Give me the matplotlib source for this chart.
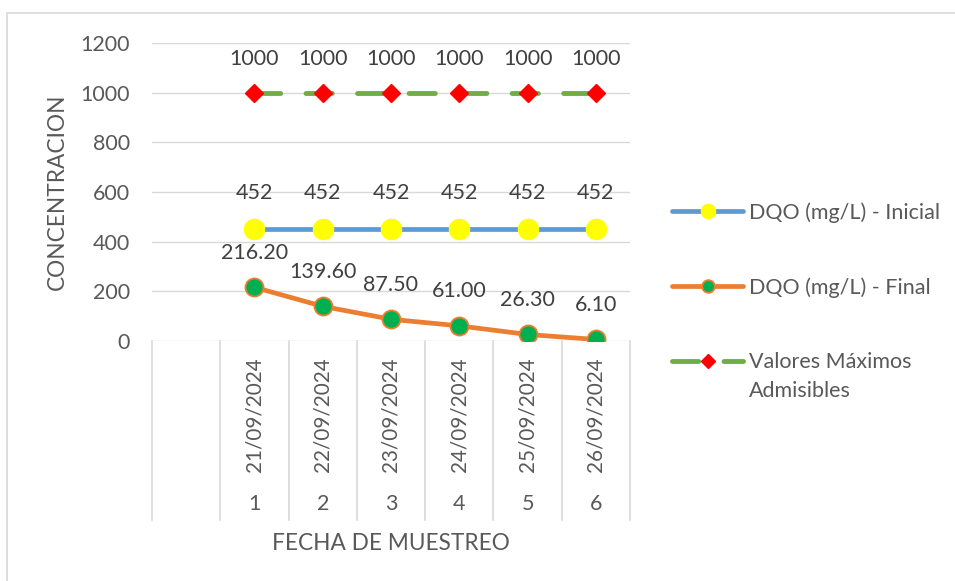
import numpy as np
import matplotlib
matplotlib.use("Agg")
import matplotlib.pyplot as plt
from matplotlib.patches import Rectangle
from matplotlib.transforms import blended_transform_factory

# Sample data
muestras = ["1", "2", "3", "4", "5", "6"]
fechas = ["21/09/2024", "22/09/2024", "23/09/2024", "24/09/2024", "25/09/2024", "26/09/2024"]
dqo_inicial = [452, 452, 452, 452, 452, 452]
dqo_final = [216.20, 139.60, 87.50, 61.00, 26.30, 6.10]
vma = [1000, 1000, 1000, 1000, 1000, 1000]
y_ticks = [0, 200, 400, 600, 800, 1000, 1200]

plt.rcParams["font.family"] = ["Lato", "DejaVu Sans"]
FS = 15.5
TXT = "#595959"
LBL = "#404040"
GRID = "#d9d9d9"

W, H = 955, 581
fig = plt.figure(figsize=(W / 100, H / 100), dpi=100)

def fx(px):
    return px / W

def fy(py):
    return 1 - py / H

# chart border (only left/top edges fall inside the image)
fig.patches.append(Rectangle((fx(7), -0.1), 1.2, fy(13) + 0.1, transform=fig.transFigure,
                             fill=False, edgecolor=GRID, linewidth=1.2))

ax = fig.add_axes([fx(152), fy(341), fx(630) - fx(152), fy(43) - fy(341)])
for s in ax.spines.values():
    s.set_visible(False)

x = np.arange(len(muestras))
ax.set_xlim(-1.5, len(muestras) - 0.5)
ax.set_ylim(0, 1200)
ax.set_yticks(y_ticks)
ax.set_yticklabels([str(t) for t in y_ticks])
ax.tick_params(axis="y", length=0, pad=16, labelsize=FS, labelcolor=TXT)
ax.set_xticks([])
ax.yaxis.grid(True, color=GRID, linewidth=1.0)
ax.set_axisbelow(True)

# series
l1, = ax.plot(x, dqo_inicial, color="#5B9BD5", linewidth=3.4, marker="o", markersize=14.5,
              markerfacecolor="#FFFF00", markeredgecolor="#FFFF00", solid_capstyle="round",
              label="DQO (mg/L) - Inicial", zorder=3)
l2, = ax.plot(x, dqo_final, color="#ED7D31", linewidth=3.4, marker="o", markersize=13,
              markerfacecolor="#00B050", markeredgecolor="#ED7D31", markeredgewidth=1.3,
              solid_capstyle="round", label="DQO (mg/L) - Final", zorder=4)
l3, = ax.plot(x, vma, color="#70AD47", linewidth=3.5, linestyle=(0, (5.4, 5.2)),
              dash_capstyle="round", marker="D", markersize=9.5,
              markerfacecolor="#FF0000", markeredgecolor="#FF0000",
              label="Valores Máximos", zorder=3)

# data labels
for xi, v in zip(x, vma):
    ax.annotate(f"{v:.0f}", (xi, v), xytext=(0, 24), textcoords="offset points",
                ha="center", va="center", fontsize=FS, color=LBL)
for xi, v in zip(x, dqo_inicial):
    ax.annotate(f"{v:.0f}", (xi, v), xytext=(0, 26), textcoords="offset points",
                ha="center", va="center", fontsize=FS, color=LBL)
for xi, v in zip(x, dqo_final):
    ax.annotate(f"{v:.2f}", (xi, v), xytext=(0, 25), textcoords="offset points",
                ha="center", va="center", fontsize=FS, color=LBL)

# multi-level category axis
trans = blended_transform_factory(ax.transData, ax.transAxes)
ax_h = 341 - 43
y_bot = -(520 - 341) / ax_h
for b in np.arange(-1.5, len(muestras), 1.0):
    ax.plot([b, b], [0, y_bot], transform=trans, color=GRID, linewidth=1.2, clip_on=False)
y_date = -(357 - 341) / ax_h
y_num = -(504 - 341) / ax_h
for xi, f, m in zip(x, fechas, muestras):
    ax.text(xi, y_date, f, transform=trans, rotation=90, ha="center", va="top",
            fontsize=FS - 0.6, color=TXT)
    ax.text(xi, y_num, m, transform=trans, ha="center", va="center",
            fontsize=FS, color=TXT)

fig.text(fx(391), fy(543), "FECHA DE MUESTREO", ha="center", va="center",
         fontsize=FS + 0.8, color=TXT)
fig.text(fx(57), fy(192), "CONCENTRACION", ha="center", va="center", rotation=90,
         fontsize=FS + 0.8, color=TXT)

leg = ax.legend(handles=[l1, l2, l3], loc="upper left",
                bbox_to_anchor=(fx(672), fy(202)), bbox_transform=fig.transFigure,
                frameon=False, fontsize=FS, labelcolor=TXT, handlelength=3.3,
                handletextpad=0.28, labelspacing=2.53, borderpad=0, borderaxespad=0,
                markerscale=0.7)

fig.canvas.draw()
t3 = leg.get_texts()[2]
bb = t3.get_window_extent(fig.canvas.get_renderer())
fig.text(bb.x0 / W, (bb.y0 - 29 + bb.height / 2) / H, "Admisibles", ha="left", va="center",
         fontsize=FS, color=TXT)

fig.savefig("out.png", dpi=100)
